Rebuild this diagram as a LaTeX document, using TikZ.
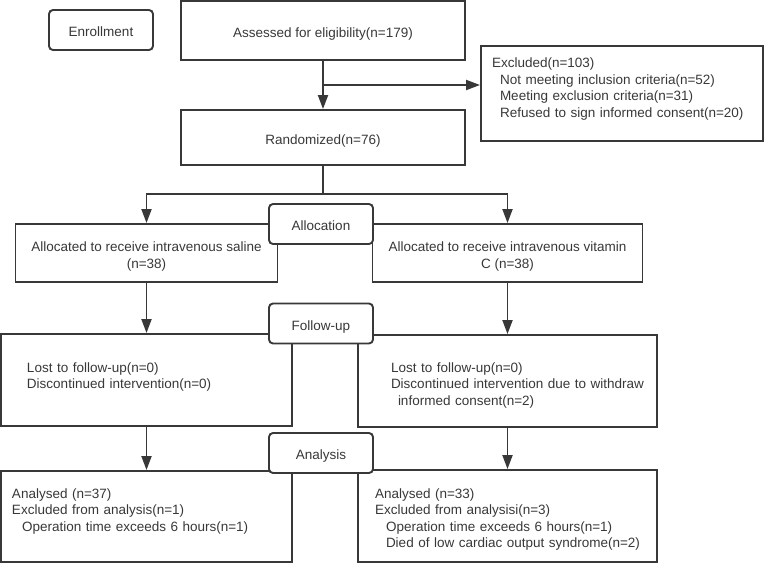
\documentclass[tikz,border=0pt]{standalone}
\usepackage{fontspec}
\setmainfont{Liberation Sans}
\usetikzlibrary{arrows.meta}
\definecolor{ink}{HTML}{383838}

\begin{document}
\begin{tikzpicture}[x=1pt, y=-1pt,
  font=\fontsize{13.5}{16.5}\selectfont,
  box/.style={draw=ink, line width=1.9pt, text=ink, inner ysep=0pt, text height=13.6pt, text depth=0pt},
  stage/.style={box, fill=white, rounded corners=4pt, minimum width=104pt, minimum height=40pt},
  list/.style 2 args={box, align=left, inner xsep=6pt, text height=#1, text depth=#2},
  arr/.style={draw=ink, line width=1.9pt, -{Triangle[length=14pt,width=10pt]}},
  link/.style={draw=ink, line width=1.9pt}]
\useasboundingbox (0,0) rectangle (764,563);

\node[stage] (enroll) at (101,30) {Enrollment};
\node[box, minimum width=284pt, minimum height=59pt] (assess) at (323,30.5) {Assessed for eligibility(n=179)};
\node[list={21.5pt}{73.5pt}, text width=270pt] (excl) at (622,93.5)
  {\hspace*{5pt}\begin{tabular}[t]{@{}l@{}}
   Excluded(n=103)\\
   \hspace*{8pt}Not meeting inclusion criteria(n=52)\\
   \hspace*{8pt}Meeting exclusion criteria(n=31)\\
   \hspace*{8pt}Refused to sign informed consent(n=20)
   \end{tabular}};
\node[box, minimum width=284pt, minimum height=55pt] (rand) at (323,137.5) {Randomized(n=76)};

\node[box, minimum width=262pt, text height=27.5pt, text depth=30.5pt] (saline) at (146.5,253)
  {\begin{tabular}[t]{@{}c@{}}Allocated to receive intravenous saline\\(n=38)\end{tabular}};
\node[box, minimum width=270pt, text height=27.5pt, text depth=30.5pt] (vitc) at (507.5,253)
  {\begin{tabular}[t]{@{}c@{}}Allocated to receive intravenous vitamin\\C (n=38)\end{tabular}};

\node[list={38pt}{54pt}, text width=279pt] (fuL) at (146.5,380)
  {\hspace*{20pt}\begin{tabular}[t]{@{}l@{}}
   Lost to follow-up(n=0)\\
   Discontinued intervention(n=0)
   \end{tabular}};
\node[list={37pt}{55pt}, text width=287pt] (fuR) at (507.5,381)
  {\hspace*{27pt}\begin{tabular}[t]{@{}l@{}}
   Lost to follow-up(n=0)\\
   Discontinued intervention due to withdraw\\
   \hspace*{7pt}informed consent(n=2)
   \end{tabular}};

\node[list={27pt}{64pt}, text width=279pt] (anL) at (146.5,516.5)
  {\hspace*{5pt}\begin{tabular}[t]{@{}l@{}}
   Analysed (n=37)\\
   Excluded from analysis(n=1)\\
   \hspace*{10pt}Operation time exceeds 6 hours(n=1)
   \end{tabular}};
\node[list={28pt}{64pt}, text width=287pt] (anR) at (507.5,516)
  {\hspace*{11pt}\begin{tabular}[t]{@{}l@{}}
   Analysed (n=33)\\
   Excluded from analysisi(n=3)\\
   \hspace*{11pt}Operation time exceeds 6 hours(n=1)\\
   \hspace*{11pt}Died of low cardiac output syndrome(n=2)
   \end{tabular}};

\coordinate (side) at (323,85);
\coordinate (fork) at (323,194);
\draw[arr] (assess.south) -- (rand.north);
\draw[arr] (side) -- (side -| excl.west);
\draw[link] (rand.south) -- (fork);
\draw[arr] (fork) -| (saline.north);
\draw[arr] (fork) -| (vitc.north);
\draw[arr] (saline.south) -- (fuL.north);
\draw[arr] (vitc.south) -- (fuR.north);
\draw[arr] (fuL.south) -- (anL.north);
\draw[arr] (fuR.south) -- (anR.north);

\node[stage] (alloc) at (321,224) {Allocation};
\node[stage] (follow) at (321,323.5) {Follow-up};
\node[stage] (anal) at (321,453) {Analysis};
\end{tikzpicture}
\end{document}
